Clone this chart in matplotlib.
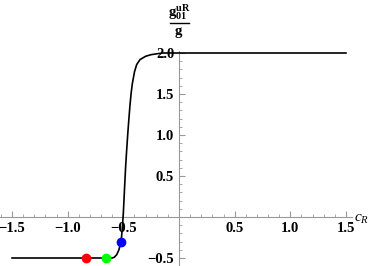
import matplotlib
matplotlib.use("Agg")
import matplotlib.pyplot as plt
import numpy as np

# curve values
c_vals = [-1.5, -0.8, -0.6, -0.58, -0.56, -0.54, -0.52, -0.51, -0.50, -0.49, -0.48,
          -0.47, -0.46, -0.45, -0.44, -0.43, -0.42, -0.40, -0.38, -0.35, -0.30,
          -0.25, -0.20, -0.15, 0.0, 1.5]
g_vals = [-0.5, -0.5, -0.5, -0.49, -0.46, -0.40, -0.30, -0.15, 0.05, 0.33, 0.60,
          0.82, 1.02, 1.20, 1.37, 1.51, 1.62, 1.77, 1.86, 1.92, 1.96,
          1.98, 1.99, 2.0, 2.0, 2.0]

pt_x = [-0.84, -0.66, -0.52]
pt_y = [-0.5, -0.5, -0.31]
pt_colors = ["#ff0000", "#00ff00", "#0000ff"]

xticks = [-1.5, -1.0, -0.5, 0.5, 1.0, 1.5]
yticks = [-0.5, 0.5, 1.0, 1.5, 2.0]

plt.rcParams["mathtext.fontset"] = "custom"
plt.rcParams["mathtext.rm"] = "Liberation Serif:bold"
plt.rcParams["mathtext.bf"] = "Liberation Serif:bold"
plt.rcParams["mathtext.it"] = "Liberation Serif:italic"

W, H = 375, 266
fig = plt.figure(figsize=(W / 100, H / 100), dpi=100)
ax = fig.add_axes([0, 0, 1, 1])

# pixel mapping: x=0 at 179px, 111.3 px/unit ; y=0 at 217px, 82 px/unit
ax.set_xlim(-179 / 111.3, (W - 179) / 111.3)
ax.set_ylim((217 - H) / 82, 217 / 82)

axcol = "#999999"
for s in ["top", "right"]:
    ax.spines[s].set_visible(False)
ax.spines["left"].set_position(("data", 0))
ax.spines["bottom"].set_position(("data", 0))
ax.spines["left"].set_color(axcol)
ax.spines["bottom"].set_color(axcol)
ax.spines["left"].set_linewidth(0.8)
ax.spines["bottom"].set_linewidth(0.8)
ax.spines["bottom"].set_bounds(-1.61, 1.555)
ax.spines["left"].set_bounds((217 - H) / 82, 2.03)

ax.set_xticks(xticks)
ax.set_yticks(yticks)
ax.set_xticks(np.round(np.arange(-1.6, 1.56, 0.1), 2), minor=True)
ax.set_yticks(np.round(np.arange(-0.5, 2.01, 0.1), 2), minor=True)
ax.set_xticklabels(["\u22121.5", "\u22121.0", "\u22120.5", "0.5", "1.0", "1.5"])
ax.set_yticklabels(["\u22120.5", "0.5", "1.0", "1.5", "2.0"])
ax.tick_params(which="major", direction="in", length=4, width=0.8, color=axcol,
               labelsize=10.5, pad=3.5)
ax.tick_params(which="minor", direction="in", length=2.2, width=0.6, color=axcol)
for lab in ax.get_xticklabels() + ax.get_yticklabels():
    lab.set_fontfamily("Liberation Serif")
    lab.set_fontweight("bold")

ax.plot(c_vals, g_vals, color="black", lw=1.2, zorder=3)
for x, y, c in zip(pt_x, pt_y, pt_colors):
    ax.plot(x, y, "o", color=c, markersize=6, zorder=4)

# axis labels
fig.text(179 / W, 1 - 12 / H, r"$\mathrm{g}_{01}^{\mathrm{uR}}$", ha="center",
         va="center", fontsize=10.5)
fig.add_artist(plt.Line2D([170 / W, 189 / W], [1 - 22.7 / H, 1 - 22.7 / H],
                          color="black", lw=1.0))
fig.text(179 / W, 1 - 32 / H, r"$\mathrm{g}$", ha="center", va="center", fontsize=10.5)
fig.text(362 / W, 1 - 218 / H, r"$c_R$", ha="center", va="center", fontsize=11)

fig.savefig("out.png", dpi=100)
